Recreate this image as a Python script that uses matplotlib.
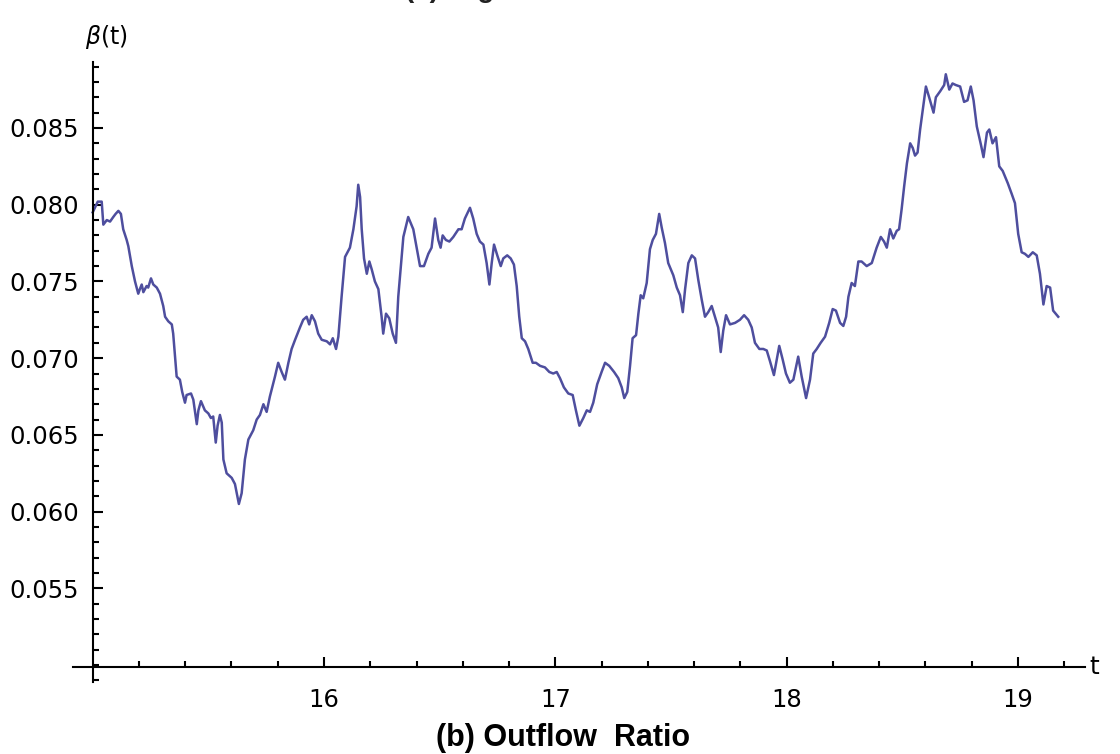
import matplotlib
matplotlib.use("Agg")
import matplotlib.pyplot as plt
from matplotlib.ticker import MultipleLocator, FixedLocator

# time axis
t = [
    15.000, 15.022, 15.039, 15.046, 15.061, 15.075, 15.089, 15.099, 15.111, 15.122,
    15.132, 15.147, 15.154, 15.169, 15.183, 15.197, 15.204, 15.212, 15.219, 15.233,
    15.240, 15.252, 15.262, 15.277, 15.291, 15.305, 15.313, 15.327, 15.342, 15.348,
    15.356, 15.363, 15.377, 15.387, 15.399, 15.406, 15.425, 15.435, 15.450, 15.457,
    15.468, 15.485, 15.500, 15.511, 15.521, 15.532, 15.540, 15.550, 15.558, 15.565,
    15.579, 15.601, 15.615, 15.632, 15.644, 15.658, 15.673, 15.694, 15.709, 15.723,
    15.738, 15.752, 15.766, 15.788, 15.802, 15.817, 15.831, 15.846, 15.860, 15.875,
    15.896, 15.910, 15.925, 15.936, 15.947, 15.961, 15.975, 15.990, 16.012, 16.026,
    16.038, 16.052, 16.062, 16.076, 16.091, 16.112, 16.127, 16.141, 16.148, 16.156,
    16.163, 16.173, 16.185, 16.196, 16.206, 16.220, 16.235, 16.249, 16.256, 16.268,
    16.282, 16.297, 16.311, 16.321, 16.343, 16.364, 16.386, 16.408, 16.415, 16.432,
    16.451, 16.465, 16.480, 16.494, 16.504, 16.513, 16.527, 16.542, 16.559, 16.581,
    16.595, 16.609, 16.631, 16.645, 16.660, 16.674, 16.689, 16.703, 16.715, 16.725,
    16.735, 16.749, 16.764, 16.775, 16.792, 16.807, 16.821, 16.833, 16.844, 16.855,
    16.869, 16.883, 16.902, 16.916, 16.934, 16.955, 16.974, 16.991, 17.006, 17.020,
    17.037, 17.056, 17.075, 17.089, 17.104, 17.121, 17.136, 17.150, 17.164, 17.181,
    17.200, 17.215, 17.233, 17.254, 17.272, 17.287, 17.298, 17.311, 17.323, 17.334,
    17.349, 17.359, 17.369, 17.380, 17.395, 17.409, 17.421, 17.435, 17.449, 17.460,
    17.474, 17.488, 17.510, 17.525, 17.539, 17.551, 17.561, 17.575, 17.590, 17.604,
    17.618, 17.633, 17.647, 17.661, 17.676, 17.690, 17.704, 17.715, 17.726, 17.738,
    17.755, 17.777, 17.798, 17.816, 17.834, 17.849, 17.863, 17.882, 17.899, 17.914,
    17.928, 17.945, 17.957, 17.968, 17.983, 17.997, 18.014, 18.029, 18.043, 18.050,
    18.065, 18.084, 18.101, 18.115, 18.130, 18.147, 18.166, 18.184, 18.199, 18.213,
    18.231, 18.245, 18.257, 18.267, 18.281, 18.295, 18.310, 18.324, 18.346, 18.368,
    18.389, 18.407, 18.421, 18.433, 18.447, 18.461, 18.476, 18.486, 18.497, 18.508,
    18.520, 18.534, 18.545, 18.555, 18.566, 18.577, 18.592, 18.602, 18.616, 18.635,
    18.645, 18.664, 18.681, 18.688, 18.703, 18.717, 18.731, 18.750, 18.767, 18.782,
    18.796, 18.808, 18.822, 18.840, 18.851, 18.866, 18.876, 18.890, 18.905, 18.919,
    18.934, 18.956, 18.973, 18.987, 19.001, 19.016, 19.030, 19.045, 19.064, 19.081,
    19.095, 19.110, 19.124, 19.139, 19.152, 19.174,
]

# outflow ratio beta(t)
beta = [
    0.0795, 0.0802, 0.0802, 0.0787, 0.0790, 0.0789, 0.0792, 0.0794, 0.0796, 0.0794,
    0.0784, 0.0777, 0.0773, 0.0760, 0.0750, 0.0742, 0.0745, 0.0748, 0.0743, 0.0747,
    0.0746, 0.0752, 0.0748, 0.0746, 0.0742, 0.0734, 0.0727, 0.0724, 0.0722, 0.0716,
    0.0701, 0.0688, 0.0686, 0.0678, 0.0671, 0.0676, 0.0677, 0.0673, 0.0657, 0.0666,
    0.0672, 0.0666, 0.0664, 0.0661, 0.0662, 0.0645, 0.0656, 0.0663, 0.0658, 0.0634,
    0.0625, 0.0622, 0.0618, 0.0605, 0.0612, 0.0634, 0.0647, 0.0653, 0.0660, 0.0663,
    0.0670, 0.0665, 0.0675, 0.0688, 0.0697, 0.0691, 0.0686, 0.0697, 0.0706, 0.0712,
    0.0720, 0.0725, 0.0727, 0.0722, 0.0728, 0.0724, 0.0716, 0.0712, 0.0711, 0.0709,
    0.0713, 0.0706, 0.0714, 0.0740, 0.0766, 0.0772, 0.0784, 0.0799, 0.0813, 0.0805,
    0.0784, 0.0765, 0.0755, 0.0763, 0.0758, 0.0750, 0.0745, 0.0727, 0.0716, 0.0729,
    0.0726, 0.0716, 0.0710, 0.0740, 0.0779, 0.0792, 0.0784, 0.0766, 0.0760, 0.0760,
    0.0768, 0.0772, 0.0791, 0.0777, 0.0772, 0.0780, 0.0777, 0.0776, 0.0779, 0.0784,
    0.0784, 0.0791, 0.0798, 0.0791, 0.0781, 0.0776, 0.0774, 0.0762, 0.0748, 0.0762,
    0.0774, 0.0767, 0.0760, 0.0765, 0.0767, 0.0765, 0.0761, 0.0747, 0.0727, 0.0713,
    0.0711, 0.0706, 0.0697, 0.0697, 0.0695, 0.0694, 0.0691, 0.0690, 0.0691, 0.0687,
    0.0681, 0.0677, 0.0676, 0.0666, 0.0656, 0.0661, 0.0666, 0.0665, 0.0671, 0.0683,
    0.0691, 0.0697, 0.0695, 0.0691, 0.0687, 0.0681, 0.0674, 0.0678, 0.0695, 0.0713,
    0.0715, 0.0729, 0.0741, 0.0739, 0.0749, 0.0771, 0.0777, 0.0781, 0.0794, 0.0785,
    0.0775, 0.0762, 0.0754, 0.0746, 0.0741, 0.0730, 0.0745, 0.0762, 0.0767, 0.0765,
    0.0751, 0.0738, 0.0727, 0.0730, 0.0734, 0.0727, 0.0720, 0.0704, 0.0718, 0.0728,
    0.0722, 0.0723, 0.0725, 0.0728, 0.0725, 0.0720, 0.0710, 0.0706, 0.0706, 0.0705,
    0.0698, 0.0689, 0.0699, 0.0708, 0.0699, 0.0690, 0.0684, 0.0686, 0.0696, 0.0701,
    0.0688, 0.0674, 0.0686, 0.0703, 0.0706, 0.0710, 0.0714, 0.0723, 0.0732, 0.0731,
    0.0723, 0.0721, 0.0727, 0.0740, 0.0749, 0.0747, 0.0763, 0.0763, 0.0760, 0.0762,
    0.0772, 0.0779, 0.0776, 0.0772, 0.0784, 0.0778, 0.0783, 0.0784, 0.0797, 0.0812,
    0.0827, 0.0840, 0.0837, 0.0832, 0.0834, 0.0849, 0.0866, 0.0877, 0.0870, 0.0860,
    0.0870, 0.0874, 0.0878, 0.0885, 0.0875, 0.0879, 0.0878, 0.0877, 0.0867, 0.0868,
    0.0877, 0.0868, 0.0851, 0.0839, 0.0831, 0.0847, 0.0849, 0.0840, 0.0844, 0.0825,
    0.0822, 0.0814, 0.0807, 0.0801, 0.0781, 0.0769, 0.0768, 0.0766, 0.0769, 0.0767,
    0.0755, 0.0735, 0.0747, 0.0746, 0.0731, 0.0727,
]

x_major = [16, 17, 18, 19]
y_major = [0.055, 0.060, 0.065, 0.070, 0.075, 0.080, 0.085]
y_labels = ["0.055", "0.060", "0.065", "0.070", "0.075", "0.080", "0.085"]

fig = plt.figure(figsize=(11.2, 7.54), dpi=100)
ax = fig.add_axes([0.0652, 0.0955, 0.9036, 0.8223])

ax.plot(t, beta, color="#4e4e9e", lw=1.8)

# Mathematica-style crossing axes
ax.set_xlim(14.915, 19.29)
ax.set_ylim(0.0489, 0.0893)
ax.spines["left"].set_position(("data", 15.0))
ax.spines["bottom"].set_position(("data", 0.04985))
ax.spines["top"].set_visible(False)
ax.spines["right"].set_visible(False)
for s in ("left", "bottom"):
    ax.spines[s].set_linewidth(1.5)

ax.xaxis.set_major_locator(FixedLocator(x_major))
ax.xaxis.set_minor_locator(FixedLocator([15.2, 15.4, 15.6, 15.8, 16.2, 16.4, 16.6, 16.8,
                                         17.2, 17.4, 17.6, 17.8, 18.2, 18.4, 18.6, 18.8, 19.2]))
ax.yaxis.set_major_locator(FixedLocator(y_major))
ax.yaxis.set_minor_locator(MultipleLocator(0.001))
ax.set_yticklabels(y_labels)

ax.tick_params(which="both", direction="in", width=1.5, colors="black")
ax.tick_params(which="major", length=7)
ax.tick_params(which="minor", length=4.5)
ax.tick_params(axis="x", which="major", labelsize=17.5, pad=15)
ax.tick_params(axis="y", which="major", labelsize=17.5, pad=10)

# axis labels at the axis ends
ax.text(15.06, 0.0909, r"$\beta$(t)", fontsize=17, ha="center", va="center")
ax.text(19.33, 0.04985, "t", fontsize=18, ha="center", va="center")

fig.text(0.503, 0.021, "(b) Outflow  Ratio", ha="center", va="center",
         fontsize=22, fontweight="bold", family="Liberation Sans")
# caption of the panel above, cut by the image edge
fig.text(0.47, 1.0 + 3.0 / 754, "(a) Migration Ratio", ha="center", va="baseline",
         fontsize=20, fontweight="bold", family="Liberation Sans", color="#222222")

fig.savefig("out.png", dpi=100)
